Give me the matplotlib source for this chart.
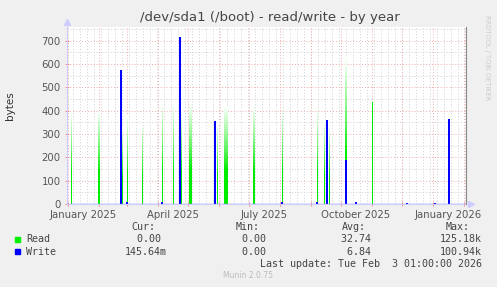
import numpy as np
import pandas as pd
import matplotlib
matplotlib.use("Agg")
import matplotlib.pyplot as plt
import matplotlib.dates as mdates
from matplotlib.patches import Rectangle

W, H = 497, 287

# read spikes (bytes): date, peak height, bar width in days, drawn without fade
read_dates = ["2025-01-04", "2025-02-01", "2025-02-24", "2025-03-01", "2025-03-16",
              "2025-04-05", "2025-04-16", "2025-04-24", "2025-05-03", "2025-05-30",
              "2025-06-08", "2025-07-06", "2025-08-03", "2025-09-07", "2025-09-14",
              "2025-09-19", "2025-10-06", "2025-11-01"]
read_vals = [400, 400, 330, 380, 350, 440, 435, 400, 430, 350,
             420, 420, 410, 410, 360, 340, 630, 435]
read_width = [1, 2, 1, 1, 1, 1, 1, 1, 3, 1, 4, 2, 1, 1, 1, 1, 2, 1]
read_solid = [False] * 17 + [True]

# write spikes
write_dates = ["2025-02-23", "2025-03-01", "2025-04-05", "2025-04-23", "2025-05-28",
               "2025-08-03", "2025-09-07", "2025-09-17", "2025-10-06", "2025-10-16",
               "2025-12-06", "2026-01-03", "2026-01-17"]
write_vals = [575, 8, 8, 714, 357, 8, 8, 360, 188, 10, 4, 4, 363]
write_width = [2, 2, 2, 2, 2, 2, 2, 1.5, 1.5, 2, 2, 2, 2]

month_labels = ["January 2025", "April 2025", "July 2025", "October 2025", "January 2026"]
label_dates = ["2025-01-16", "2025-04-16", "2025-07-16", "2025-10-16", "2026-01-16"]

legend_rows = ["Read", "Write"]
legend_colors = ["#00ee00", "#0000ff"]
cur_vals = ["0.00 ", "145.64m"]
min_vals = ["0.00 ", "0.00 "]
avg_vals = ["32.74 ", "6.84 "]
max_vals = ["125.18k", "100.94k"]


def px(x, y):
    return x / W, 1 - y / H


fig = plt.figure(figsize=(W / 100, H / 100), dpi=100, facecolor="#f0f0f0")
ax = fig.add_axes([67 / W, 1 - 204 / H, (466 - 67) / W, (204 - 27) / H])
ax.set_facecolor("white")

x0, x1 = pd.Timestamp("2024-12-31"), pd.Timestamp("2026-02-03")
ax.set_xlim(x0, x1)
ax.set_ylim(0, 758)

# grid
for d in pd.date_range(x0, x1, freq="W-MON"):
    ax.axvline(d, color="#d0d0d0", lw=0.7, ls=(0, (1, 2)), zorder=0)
for d in pd.date_range(x0, x1, freq="MS"):
    ax.axvline(d, color="#eeaaaa", lw=0.7, ls=(0, (1, 2)), zorder=0)
for v in np.arange(50, 758, 100):
    ax.axhline(v, color="#d0d0d0", lw=0.7, ls=(0, (1, 2)), zorder=0)
for v in np.arange(100, 758, 100):
    ax.axhline(v, color="#eeaaaa", lw=0.7, ls=(0, (1, 2)), zorder=0)

# read bars with a fade to white
green = np.array([0.0, 0.93, 0.0])
rd = pd.to_datetime(read_dates)
rv = np.array(read_vals, dtype=float)
n = 30
for k in range(n):
    f = (k + 0.5) / n
    cols = []
    for s in read_solid:
        wh = 0.0 if s else np.clip((f - 0.35) / 0.65, 0, 1) ** 0.9
        cols.append(green * (1 - wh) + wh)
    ax.bar(rd, rv / n, bottom=rv * k / n, width=read_width, color=cols,
           linewidth=0, antialiased=False, zorder=2)

ax.bar(pd.to_datetime(write_dates), write_vals, width=write_width,
       color="#0000ff", linewidth=0, antialiased=False, zorder=3)
ax.axhline(0, color="#8080ff", lw=1, zorder=4)

# axes styling
ax.spines["top"].set_visible(False)
ax.spines["left"].set_color("#ccccff")
ax.spines["bottom"].set_color("#ccccff")
ax.spines["right"].set_color("#888888")
ax.spines["right"].set_zorder(5)
ax.plot([0], [1.03], marker="^", color="#ccccff", ms=4, transform=ax.transAxes, clip_on=False)
ax.plot([1.012], [0], marker=">", color="#ccccff", ms=4, transform=ax.transAxes, clip_on=False)

ax.xaxis.set_major_locator(mdates.MonthLocator())
ax.xaxis.set_major_formatter(plt.NullFormatter())
ax.tick_params(axis="x", which="major", length=3, direction="inout", color="#ee8888", width=0.7)
ax.set_xticks(pd.to_datetime(label_dates), month_labels, minor=True)
ax.tick_params(axis="x", which="minor", length=0, labelsize=7.3, labelcolor="#555555", pad=4)

ax.set_yticks(np.arange(0, 701, 100))
ax.tick_params(axis="y", length=3, direction="inout", color="#ee8888", width=0.7,
               labelsize=7.3, labelcolor="#555555", pad=3)

# texts
fig.text(*px(270, 18), "/dev/sda1 (/boot) - read/write - by year", ha="center", va="center",
         fontsize=9.5, color="#444444")
fig.text(*px(10, 106), "bytes", ha="center", va="center", rotation=90, fontsize=7.5, color="#333333")
fig.text(*px(487, 58), "RRDTOOL / TOBI OETIKER", ha="center", va="center", rotation=270,
         fontsize=4.8, color="#cccccc")

mono = dict(family="DejaVu Sans Mono", fontsize=7.2, color="#444444", va="center")
for x, t in zip([155, 260, 366, 470], ["Cur:", "Min:", "Avg:", "Max:"]):
    fig.text(*px(x, 227.5), t, ha="right", **mono)
for i, name in enumerate(legend_rows):
    y = 239.5 + 12.3 * i
    fig.add_artist(Rectangle(px(15, y + 2.5), 5 / W, 5 / H, transform=fig.transFigure,
                             color=legend_colors[i]))
    fig.text(*px(26, y), name, ha="left", **mono)
    fig.text(*px(167, y), cur_vals[i], ha="right", **mono)
    fig.text(*px(272, y), min_vals[i], ha="right", **mono)
    fig.text(*px(377, y), avg_vals[i], ha="right", **mono)
    fig.text(*px(482, y), max_vals[i], ha="right", **mono)
fig.text(*px(482, 264), "Last update: Tue Feb  3 01:00:00 2026", ha="right", **mono)
fig.text(*px(248, 276), "Munin 2.0.75", ha="center", va="center", fontsize=5.5, color="#bbbbbb")

fig.savefig("out.png", dpi=100, facecolor=fig.get_facecolor())
